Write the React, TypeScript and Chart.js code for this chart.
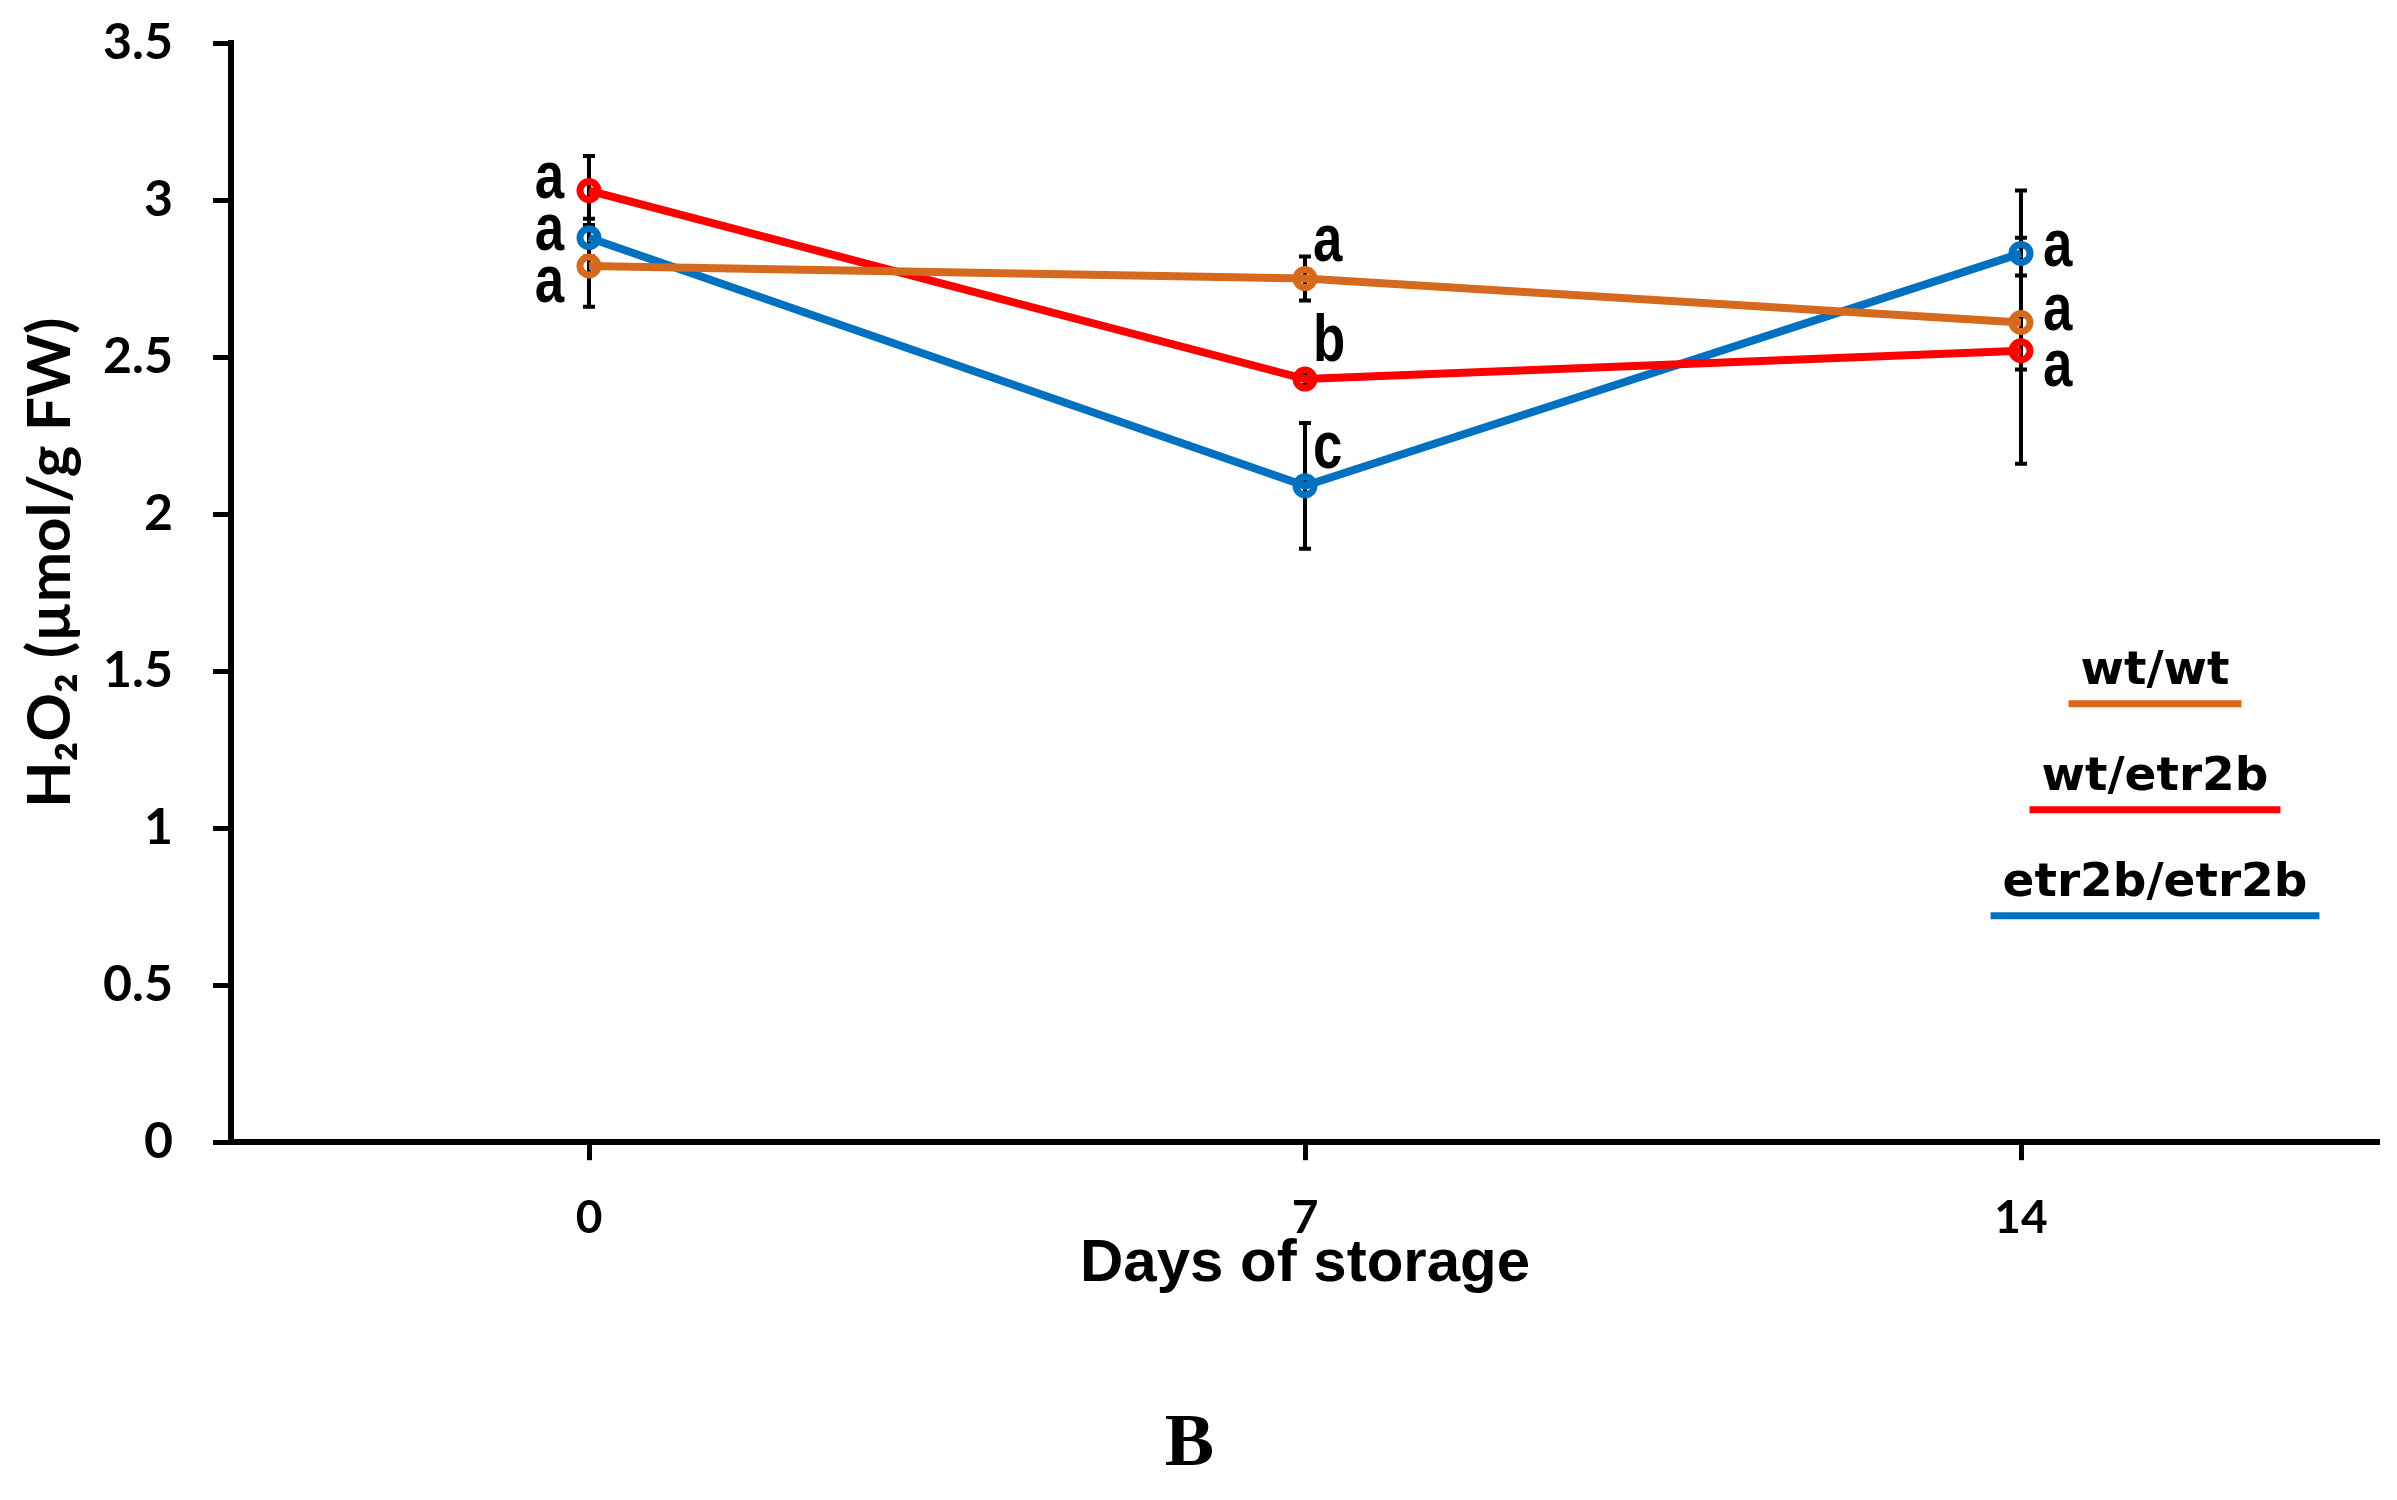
import React, { useEffect, useRef } from "react";
import { Chart, registerables } from "chart.js";

Chart.register(...registerables);

const days = ["0", "7", "14"];
const seriesNames = ["wt/wt", "wt/etr2b", "etr2b/etr2b"];
const wtWt = [2.79, 2.75, 2.61];
const wtEtr2b = [3.03, 2.43, 2.52];
const etr2bEtr2b = [2.88, 2.09, 2.83];
const wtWtErr = [0.13, 0.07, 0.15];
const wtEtr2bErr = [0.11, 0.02, 0.36];
const etr2bEtr2bErr = [0.06, 0.2, 0.2];
const wtWtLetters = ["a", "a", "a"];
const wtEtr2bLetters = ["a", "b", "a"];
const etr2bEtr2bLetters = ["a", "c", "a"];

const colors = ["#D5691E", "#FF0000", "#0070C0"];

// label placement style (pixel offsets from point), per series per day
const letterDx = [
  [-25, 8, 22],
  [-25, 8, 22],
  [-25, 8, 22],
];
const letterDy = [
  [18, -36, -11],
  [-11, -36, 17],
  [-6, -36, -6],
];

const values = [wtWt, wtEtr2b, etr2bEtr2b];
const errors = [wtWtErr, wtEtr2bErr, etr2bEtr2bErr];
const letters = [wtWtLetters, wtEtr2bLetters, etr2bEtr2bLetters];

const annotate = {
  id: "annotate",
  beforeDatasetsDraw(chart: any) {
    const { ctx } = chart;
    const xs = chart.scales.x;
    const ys = chart.scales.y;
    ctx.save();
    ctx.strokeStyle = "#000";
    ctx.lineWidth = 4;
    values.forEach((vals, i) => {
      vals.forEach((v, j) => {
        const e = errors[i][j];
        const x = xs.getPixelForValue(j);
        const yt = ys.getPixelForValue(v + e);
        const yb = ys.getPixelForValue(v - e);
        ctx.beginPath();
        ctx.moveTo(x, yt);
        ctx.lineTo(x, yb);
        ctx.moveTo(x - 6, yt);
        ctx.lineTo(x + 6, yt);
        ctx.moveTo(x - 6, yb);
        ctx.lineTo(x + 6, yb);
        ctx.stroke();
      });
    });
    ctx.restore();
  },
  afterDatasetsDraw(chart: any) {
    const { ctx, chartArea } = chart;
    const xs = chart.scales.x;
    const ys = chart.scales.y;
    ctx.save();
    ctx.fillStyle = "#000";
    ctx.textBaseline = "middle";
    ctx.font = 'bold 66px "Liberation Sans"';
    values.forEach((vals, i) => {
      vals.forEach((v, j) => {
        const x = xs.getPixelForValue(j) + letterDx[i][j];
        const y = ys.getPixelForValue(v) + letterDy[i][j];
        ctx.save();
        ctx.translate(x, y);
        ctx.scale(0.8, 1);
        ctx.textAlign = j === 0 ? "right" : "left";
        ctx.fillText(letters[i][j], 0, 0);
        ctx.restore();
      });
    });
    // legend
    const cx = chartArea.right - 224;
    const y0 = chartArea.top + 0.572 * (chartArea.bottom - chartArea.top);
    ctx.font = 'bold 47px "DejaVu Sans"';
    ctx.textAlign = "center";
    seriesNames.forEach((name, i) => {
      const ty = y0 + i * 106;
      ctx.fillStyle = "#000";
      ctx.fillText(name, cx, ty);
      const w = ctx.measureText(name).width + 24;
      ctx.strokeStyle = colors[i];
      ctx.lineWidth = 7;
      ctx.beginPath();
      ctx.moveTo(cx - w / 2, ty + 32);
      ctx.lineTo(cx + w / 2, ty + 32);
      ctx.stroke();
    });
    ctx.restore();
  },
};

export default function App() {
  const ref = useRef<HTMLCanvasElement>(null);
  useEffect(() => {
    const chart = new Chart(ref.current as HTMLCanvasElement, {
      type: "line",
      data: {
        labels: days,
        datasets: values.map((vals, i) => ({
          label: seriesNames[i],
          data: vals,
          borderColor: colors[i],
          backgroundColor: colors[i],
          borderWidth: 8,
          pointRadius: 9,
          pointBorderWidth: 7,
          pointBackgroundColor: "rgba(255,255,255,0)",
          pointBorderColor: colors[i],
          tension: 0,
          fill: false,
        })),
      },
      options: {
        animation: false,
        responsive: true,
        maintainAspectRatio: false,
        devicePixelRatio: 1,
        layout: { padding: { top: 43, right: 18, left: 0, bottom: 0 } },
        plugins: {
          legend: { display: false },
          tooltip: { enabled: false },
          title: {
            display: true,
            position: "bottom",
            text: "B",
            color: "#000",
            font: { family: '"Liberation Serif"', weight: "bold", size: 74 },
            padding: { top: 0, bottom: 10 },
          },
        },
        scales: {
          x: {
            type: "category",
            offset: true,
            grid: {
              offset: false,
              drawOnChartArea: false,
              drawTicks: true,
              tickLength: 18,
              tickWidth: 5,
              tickColor: "#000",
            },
            border: { display: true, color: "#000", width: 6 },
            ticks: {
              color: "#000",
              font: { family: "Lato", weight: "bold", size: 46 },
              padding: 30,
            },
            title: {
              display: true,
              text: "Days of storage",
              color: "#000",
              font: { family: '"Liberation Sans"', weight: "bold", size: 60 },
              padding: { top: 0, bottom: 101 },
            },
            afterFit(s: any) {
              s.height = 259;
            },
          },
          y: {
            min: 0,
            max: 3.5,
            ticks: {
              stepSize: 0.5,
              color: "#000",
              font: { family: "Lato", weight: "bold", size: 50 },
              padding: 40,
              callback: (v: any) => String(Number(v)),
            },
            grid: {
              drawOnChartArea: false,
              drawTicks: true,
              tickLength: 18,
              tickWidth: 5,
              tickColor: "#000",
            },
            border: { display: true, color: "#000", width: 6 },
            title: {
              display: true,
              text: "\u2002\u2002H₂O₂ (µmol/g FW)",
              color: "#000",
              font: { family: "Lato", weight: "bold", size: 60 },
              padding: { top: 15, bottom: 0 },
            },
            afterFit(s: any) {
              s.width = 231;
              s.paddingTop = 0;
              s.paddingBottom = 0;
            },
          },
        },
      },
      plugins: [annotate],
    });
    return () => chart.destroy();
  }, []);
  return (
    <div style={{ position: "absolute", left: 0, top: 0, width: 2397, height: 1500, background: "#fff" }}>
      <canvas ref={ref} />
    </div>
  );
}
